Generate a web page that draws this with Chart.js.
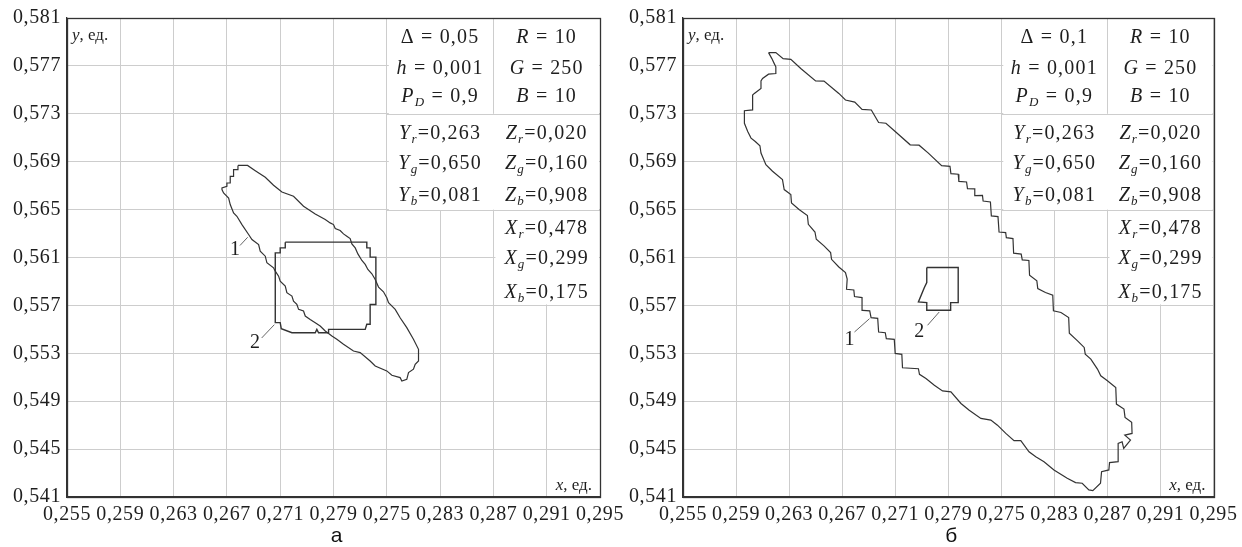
<!DOCTYPE html>
<html>
<head>
<meta charset="utf-8">
<script src="https://cdn.jsdelivr.net/npm/chart.js@4.4.1/dist/chart.umd.min.js"></script>
<style>
body { margin: 0; background: #fff; }
#wrapA { position: absolute; left: 0; top: 0; width: 640px; height: 547px; }
#wrapB { position: absolute; left: 621px; top: 0; width: 621px; height: 547px; }
</style>
</head>
<body>
<div id="wrapB"><canvas id="chartB"></canvas></div>
<div id="wrapA"><canvas id="chartA"></canvas></div>
<script>
// axes
var xTicks = [0.255, 0.259, 0.263, 0.267, 0.271, 0.275, 0.279, 0.283, 0.287, 0.291, 0.295];
var xTickLabels = ['0,255', '0,259', '0,263', '0,267', '0,271', '0,279', '0,275', '0,283', '0,287', '0,291', '0,295'];
var yTicks = [0.541, 0.545, 0.549, 0.553, 0.557, 0.561, 0.565, 0.569, 0.573, 0.577, 0.581];
var yTickLabels = ['0,541', '0,545', '0,549', '0,553', '0,557', '0,561', '0,565', '0,569', '0,573', '0,577', '0,581'];

// panel a: region 1 and region 2
var contourA1 = [
  [0.26783, 0.56869], [0.26855, 0.56869], [0.26913, 0.56825], [0.26988, 0.5677], [0.2705, 0.56703],
  [0.27113, 0.56647], [0.272, 0.56611], [0.27275, 0.56528], [0.27363, 0.56464], [0.27438, 0.56417],
  [0.27475, 0.56389], [0.275, 0.56375], [0.27513, 0.56342], [0.2755, 0.56325], [0.27575, 0.56297],
  [0.276, 0.56278], [0.27625, 0.56258], [0.27638, 0.56214], [0.27663, 0.5618], [0.27683, 0.5613],
  [0.27713, 0.56075], [0.27738, 0.56042], [0.27758, 0.56], [0.27788, 0.55964], [0.27813, 0.55917],
  [0.27838, 0.55853], [0.27875, 0.55814], [0.279, 0.55764], [0.27913, 0.55722], [0.27963, 0.55667],
  [0.28, 0.55597], [0.2805, 0.55514], [0.281, 0.55417], [0.28138, 0.55333], [0.28138, 0.55236],
  [0.28113, 0.55208], [0.281, 0.55167], [0.28063, 0.55139], [0.2805, 0.55083], [0.28013, 0.55069],
  [0.28, 0.55097], [0.27938, 0.55117], [0.279, 0.55153], [0.27813, 0.55194], [0.27775, 0.55236],
  [0.277, 0.55306], [0.2765, 0.55319], [0.27575, 0.55375], [0.27525, 0.55417], [0.27488, 0.55444],
  [0.27438, 0.55486], [0.274, 0.55528], [0.27363, 0.55556], [0.27325, 0.55583], [0.27288, 0.55611],
  [0.27275, 0.55653], [0.27238, 0.55667], [0.27225, 0.55708], [0.272, 0.55736], [0.27188, 0.55778],
  [0.2715, 0.55806], [0.27138, 0.55861], [0.271, 0.55903], [0.27088, 0.55944], [0.27063, 0.55986],
  [0.2705, 0.56014], [0.27, 0.56056], [0.26988, 0.56111], [0.2695, 0.56153], [0.26938, 0.56208],
  [0.26888, 0.5625], [0.26863, 0.56292], [0.26813, 0.56375], [0.26775, 0.56444], [0.2675, 0.56472],
  [0.26725, 0.56542], [0.26713, 0.56597], [0.26675, 0.56639], [0.26663, 0.56667], [0.26663, 0.56681],
  [0.267, 0.56694], [0.267, 0.56722], [0.26725, 0.56722], [0.26725, 0.56778], [0.2675, 0.56778],
  [0.2675, 0.56833], [0.26783, 0.56833]
];
var contourA2 = [
  [0.27138, 0.56228], [0.2775, 0.56228], [0.2775, 0.5618], [0.27775, 0.5618], [0.27775, 0.56103],
  [0.27818, 0.56103], [0.27818, 0.55708], [0.27775, 0.55708], [0.27775, 0.55542], [0.2775, 0.55542],
  [0.27738, 0.555], [0.27463, 0.555], [0.27463, 0.55472], [0.27388, 0.55472], [0.27375, 0.555],
  [0.27363, 0.55472], [0.27188, 0.55472], [0.27108, 0.55506], [0.271, 0.55556], [0.27063, 0.55556],
  [0.27063, 0.56139], [0.271, 0.56139], [0.271, 0.5618], [0.27138, 0.5618]
];

// panel б: region 1 and region 2
var contourB1 = [
  [0.26145, 0.57811], [0.262, 0.57811], [0.26255, 0.57761], [0.26313, 0.57755], [0.26388, 0.57678],
  [0.265, 0.57575], [0.26563, 0.57573], [0.26675, 0.5747], [0.26725, 0.57415], [0.26795, 0.57398],
  [0.2685, 0.57337], [0.2692, 0.57332], [0.26975, 0.57227], [0.2703, 0.57221], [0.271, 0.57152],
  [0.27213, 0.57041], [0.2728, 0.57038], [0.2735, 0.56972], [0.2745, 0.56867], [0.27513, 0.56861],
  [0.2752, 0.568], [0.27575, 0.56795], [0.2758, 0.56736], [0.27638, 0.56731], [0.27645, 0.56675],
  [0.277, 0.56673], [0.277, 0.56617], [0.27758, 0.56619], [0.27763, 0.56572], [0.27818, 0.56564],
  [0.27825, 0.56447], [0.27875, 0.56441], [0.27883, 0.56313], [0.27933, 0.56308], [0.27938, 0.56266],
  [0.27988, 0.56258], [0.27993, 0.56136], [0.2805, 0.56128], [0.28058, 0.5608], [0.28108, 0.56075],
  [0.28113, 0.55952], [0.28168, 0.55905], [0.28175, 0.55841], [0.28233, 0.55808], [0.28288, 0.55785],
  [0.28293, 0.55655], [0.2835, 0.55641], [0.28408, 0.55599], [0.28413, 0.55468], [0.28475, 0.55404],
  [0.28525, 0.55349], [0.28533, 0.55293], [0.28575, 0.55251], [0.28625, 0.55168], [0.2865, 0.55112],
  [0.287, 0.55071], [0.28763, 0.55015], [0.28768, 0.54876], [0.28825, 0.54834], [0.28833, 0.54765],
  [0.28883, 0.54723], [0.28886, 0.54631], [0.28831, 0.54617], [0.28874, 0.54575], [0.28823, 0.54506],
  [0.28811, 0.54561], [0.28781, 0.54547], [0.28781, 0.54395], [0.28716, 0.54387], [0.28711, 0.54326],
  [0.28656, 0.54312], [0.28648, 0.54215], [0.2859, 0.54153], [0.2856, 0.54159], [0.2851, 0.54215],
  [0.2846, 0.5422], [0.28397, 0.54256], [0.28297, 0.54326], [0.28222, 0.54395], [0.2816, 0.54436],
  [0.28109, 0.54478], [0.28047, 0.5457], [0.27996, 0.5457], [0.27934, 0.54631], [0.27871, 0.547],
  [0.27821, 0.54742], [0.27746, 0.54756], [0.27658, 0.54825], [0.27596, 0.54881], [0.2752, 0.54978],
  [0.27457, 0.54986], [0.27395, 0.55033], [0.27332, 0.55089], [0.27283, 0.55124], [0.27275, 0.55171],
  [0.27155, 0.55179], [0.2715, 0.55291], [0.271, 0.55299], [0.27093, 0.55416], [0.27033, 0.55422],
  [0.27025, 0.55472], [0.26975, 0.55478], [0.26968, 0.55592], [0.26918, 0.55598], [0.26908, 0.55654],
  [0.26855, 0.55659], [0.2685, 0.55765], [0.26793, 0.55774], [0.26788, 0.55829], [0.26733, 0.55835],
  [0.26738, 0.5592], [0.26725, 0.55974], [0.26675, 0.56021], [0.2662, 0.56085], [0.26613, 0.56141],
  [0.26563, 0.56197], [0.26505, 0.56252], [0.26495, 0.56313], [0.26445, 0.56377], [0.26438, 0.56451],
  [0.26375, 0.56501], [0.26318, 0.56556], [0.26313, 0.56626], [0.26263, 0.56667], [0.2625, 0.5675],
  [0.26175, 0.5682], [0.26125, 0.56875], [0.26088, 0.56972], [0.2608, 0.57033], [0.26045, 0.57069],
  [0.26013, 0.57097], [0.25988, 0.57152], [0.25963, 0.57221], [0.25963, 0.57326], [0.26025, 0.57332],
  [0.26025, 0.57456], [0.26038, 0.5747], [0.26088, 0.57512], [0.26088, 0.57575], [0.261, 0.57595],
  [0.26145, 0.57631], [0.262, 0.57636], [0.262, 0.57692], [0.26188, 0.57719], [0.2617, 0.57761]
];
var contourB2 = [
  [0.27338, 0.56016], [0.27575, 0.56016], [0.27575, 0.55723], [0.27518, 0.55723], [0.27518, 0.55659],
  [0.27338, 0.55659], [0.27338, 0.55723], [0.27275, 0.55729], [0.2732, 0.55849], [0.27338, 0.55891]
];

// numbered labels with their leader lines
var leadersA = [[[0.26798, 0.5620], [0.26856, 0.56269]], [[0.26961, 0.55428], [0.27056, 0.55539]]];
var labelsA = [['1', 0.26761, 0.56167], ['2', 0.2691, 0.55386]];
var leadersB = [[[0.26793, 0.55478], [0.26906, 0.55589]], [[0.27344, 0.55534], [0.27432, 0.55645]]];
var labelsB = [['1', 0.26756, 0.55409], ['2', 0.27282, 0.55476]];

// parameter table
var paramsA = ['Δ = 0,05', 'h = 0,001', 'P_D = 0,9'];
var paramsB = ['Δ = 0,1', 'h = 0,001', 'P_D = 0,9'];
var rgbCol = ['R = 10', 'G = 250', 'B = 10'];
var yCol = ['Y_r=0,263', 'Y_g=0,650', 'Y_b=0,081'];
var zCol = ['Z_r=0,020', 'Z_g=0,160', 'Z_b=0,908'];
var xCol = ['X_r=0,478', 'X_g=0,299', 'X_b=0,175'];

var FONT = 'Liberation Serif';
var gridColor = '#cdcdcd';
var inkColor = '#1e1e1e';
var lineColor = '#333';

function toPoints(arr, close) {
  var pts = arr.map(function(p) { return {x: p[0], y: p[1]}; });
  if (close) pts.push(pts[0]);
  return pts;
}

function drawRich(ctx, str, cx, base, size) {
  var first = str[0];
  var segs = [{t: first, f: (first === 'Δ' ? '' : 'italic ') + size + 'px "' + FONT + '"', dy: 0}];
  var rest = str.slice(1);
  if (rest[0] === '_') {
    segs.push({t: rest[1], f: 'italic ' + Math.round(size * 0.66) + 'px "' + FONT + '"', dy: size * 0.22});
    rest = rest.slice(2);
  }
  segs.push({t: rest, f: size + 'px "' + FONT + '"', dy: 0});
  var total = 0;
  segs.forEach(function(s) { ctx.font = s.f; s.w = ctx.measureText(s.t).width; total += s.w; });
  var xx = cx - total / 2;
  ctx.textAlign = 'left';
  ctx.textBaseline = 'alphabetic';
  segs.forEach(function(s) { ctx.font = s.f; ctx.fillText(s.t, xx, base + s.dy); xx += s.w; });
}

function hLine(ctx, x1, x2, yy) {
  ctx.beginPath(); ctx.moveTo(x1, Math.round(yy) + 0.5); ctx.lineTo(x2, Math.round(yy) + 0.5); ctx.stroke();
}
function vLine(ctx, xx, y1, y2) {
  ctx.beginPath(); ctx.moveTo(Math.round(xx) + 0.5, y1); ctx.lineTo(Math.round(xx) + 0.5, y2); ctx.stroke();
}

var panelPlugin = {
  id: 'panel',
  beforeDraw: function(chart) {
    chart.ctx.letterSpacing = '0.6px';
  },
  beforeDatasetsDraw: function(chart, args, opts) {
    var ctx = chart.ctx, a = chart.chartArea, x = chart.scales.x, y = chart.scales.y;
    var x6 = x.getPixelForValue(xTicks[6]), x8 = x.getPixelForValue(xTicks[8]), x10 = a.right;
    var y573 = y.getPixelForValue(yTicks[8]), y565 = y.getPixelForValue(yTicks[6]), y557 = y.getPixelForValue(yTicks[4]);
    ctx.save();
    ctx.fillStyle = '#fff';
    ctx.fillRect(x6 + 2, a.top + 1, x10 - x6 - 3, y565 - a.top);
    ctx.fillRect(x8 + 2, y565 - 1, x10 - x8 - 3, y557 - y565);
    ctx.strokeStyle = gridColor;
    ctx.lineWidth = 1;
    vLine(ctx, x8, a.top, y573);
    hLine(ctx, x6, x10, y573);
    hLine(ctx, x6, x10, y565);
    vLine(ctx, x8, y565, y557);
    hLine(ctx, x8, x10, y557);
    ctx.restore();
  },
  afterDraw: function(chart, args, opts) {
    var ctx = chart.ctx, a = chart.chartArea, x = chart.scales.x, y = chart.scales.y;
    ctx.save();
    // frame
    ctx.strokeStyle = '#333';
    ctx.lineWidth = 1.3;
    ctx.strokeRect(Math.round(a.left) + 0.5, Math.round(a.top) + 0.5, Math.round(a.right - a.left), Math.round(a.bottom - a.top));

    ctx.fillStyle = inkColor;
    ctx.letterSpacing = '1.2px';
    var x6 = x.getPixelForValue(xTicks[6]), x8 = x.getPixelForValue(xTicks[8]), x10 = a.right;
    var c1 = (x6 + x8) / 2, c2 = (x8 + x10) / 2;
    var rows = [25, 56, 84, 121, 151, 183, 216, 246, 280];
    for (var i = 0; i < 3; i++) {
      drawRich(ctx, opts.params[i], c1, a.top + rows[i], 20);
      drawRich(ctx, rgbCol[i], c2, a.top + rows[i], 20);
      drawRich(ctx, yCol[i], c1, a.top + rows[i + 3], 20);
      drawRich(ctx, zCol[i], c2, a.top + rows[i + 3], 20);
      drawRich(ctx, xCol[i], c2, a.top + rows[i + 6], 20);
    }

    // axis names
    ctx.letterSpacing = '0px';
    ctx.textBaseline = 'alphabetic';
    ctx.textAlign = 'left';
    ctx.font = 'italic 17px "' + FONT + '"';
    ctx.fillText('y', a.left + 5, a.top + 22);
    var wy = ctx.measureText('y').width;
    ctx.font = '17px "' + FONT + '"';
    ctx.fillText(', ед.', a.left + 5 + wy, a.top + 22);
    var we = ctx.measureText(', ед.').width;
    ctx.font = 'italic 17px "' + FONT + '"';
    var wx = ctx.measureText('x').width;
    ctx.fillText('x', a.right - 8 - we - wx, a.bottom - 7);
    ctx.font = '17px "' + FONT + '"';
    ctx.fillText(', ед.', a.right - 8 - we, a.bottom - 7);

    // numbered labels
    ctx.font = '20px "' + FONT + '"';
    ctx.textAlign = 'center';
    ctx.textBaseline = 'middle';
    opts.labels.forEach(function(l) {
      ctx.fillText(l[0], x.getPixelForValue(l[1]), y.getPixelForValue(l[2]));
    });

    // caption
    ctx.font = '21px "Liberation Sans"';
    ctx.fillStyle = '#111';
    ctx.fillText(opts.caption, (a.left + a.right) / 2 + 3, 536);
    ctx.restore();
  }
};

function makeChart(id, c1, c2, leaders, labels, params, caption, yWidth, padRight) {
  var datasets = [
    {data: toPoints(c1, true), borderColor: lineColor, borderWidth: 1.2},
    {data: toPoints(c2, true), borderColor: lineColor, borderWidth: 1.4}
  ];
  leaders.forEach(function(l) {
    datasets.push({data: toPoints(l, false), borderColor: '#666', borderWidth: 1});
  });
  datasets.forEach(function(d) { d.showLine = true; d.pointRadius = 0; d.fill = false; });

  return new Chart(document.getElementById(id).getContext('2d'), {
    type: 'scatter',
    data: {datasets: datasets},
    plugins: [panelPlugin],
    options: {
      responsive: true,
      maintainAspectRatio: false,
      animation: false,
      layout: {padding: {top: 17, right: padRight, left: 0, bottom: 0}},
      plugins: {
        legend: {display: false},
        tooltip: {enabled: false},
        panel: {labels: labels, params: params, caption: caption}
      },
      scales: {
        x: {
          type: 'linear', min: 0.255, max: 0.295,
          afterBuildTicks: function(s) { s.ticks = xTicks.map(function(v) { return {value: v}; }); },
          afterFit: function(s) { s.height = 50; },
          ticks: {
            callback: function(v, i) { return xTickLabels[i]; },
            autoSkip: false, maxRotation: 0, padding: 6,
            color: inkColor, font: {family: FONT, size: 20}
          },
          grid: {color: gridColor, drawTicks: false},
          border: {color: '#333', width: 1.3}
        },
        y: {
          type: 'linear', min: 0.541, max: 0.581,
          afterBuildTicks: function(s) { s.ticks = yTicks.map(function(v) { return {value: v}; }); },
          afterFit: function(s) { s.width = yWidth; },
          ticks: {
            callback: function(v, i) { return yTickLabels[i]; },
            autoSkip: false, padding: 6,
            color: inkColor, font: {family: FONT, size: 20}
          },
          grid: {color: gridColor, drawTicks: false},
          border: {color: '#333', width: 1.3}
        }
      }
    }
  });
}

makeChart('chartA', contourA1, contourA2, leadersA, labelsA, paramsA, 'а', 67, 40);
makeChart('chartB', contourB1, contourB2, leadersB, labelsB, paramsB, 'б', 62, 27);
</script>
</body>
</html>
